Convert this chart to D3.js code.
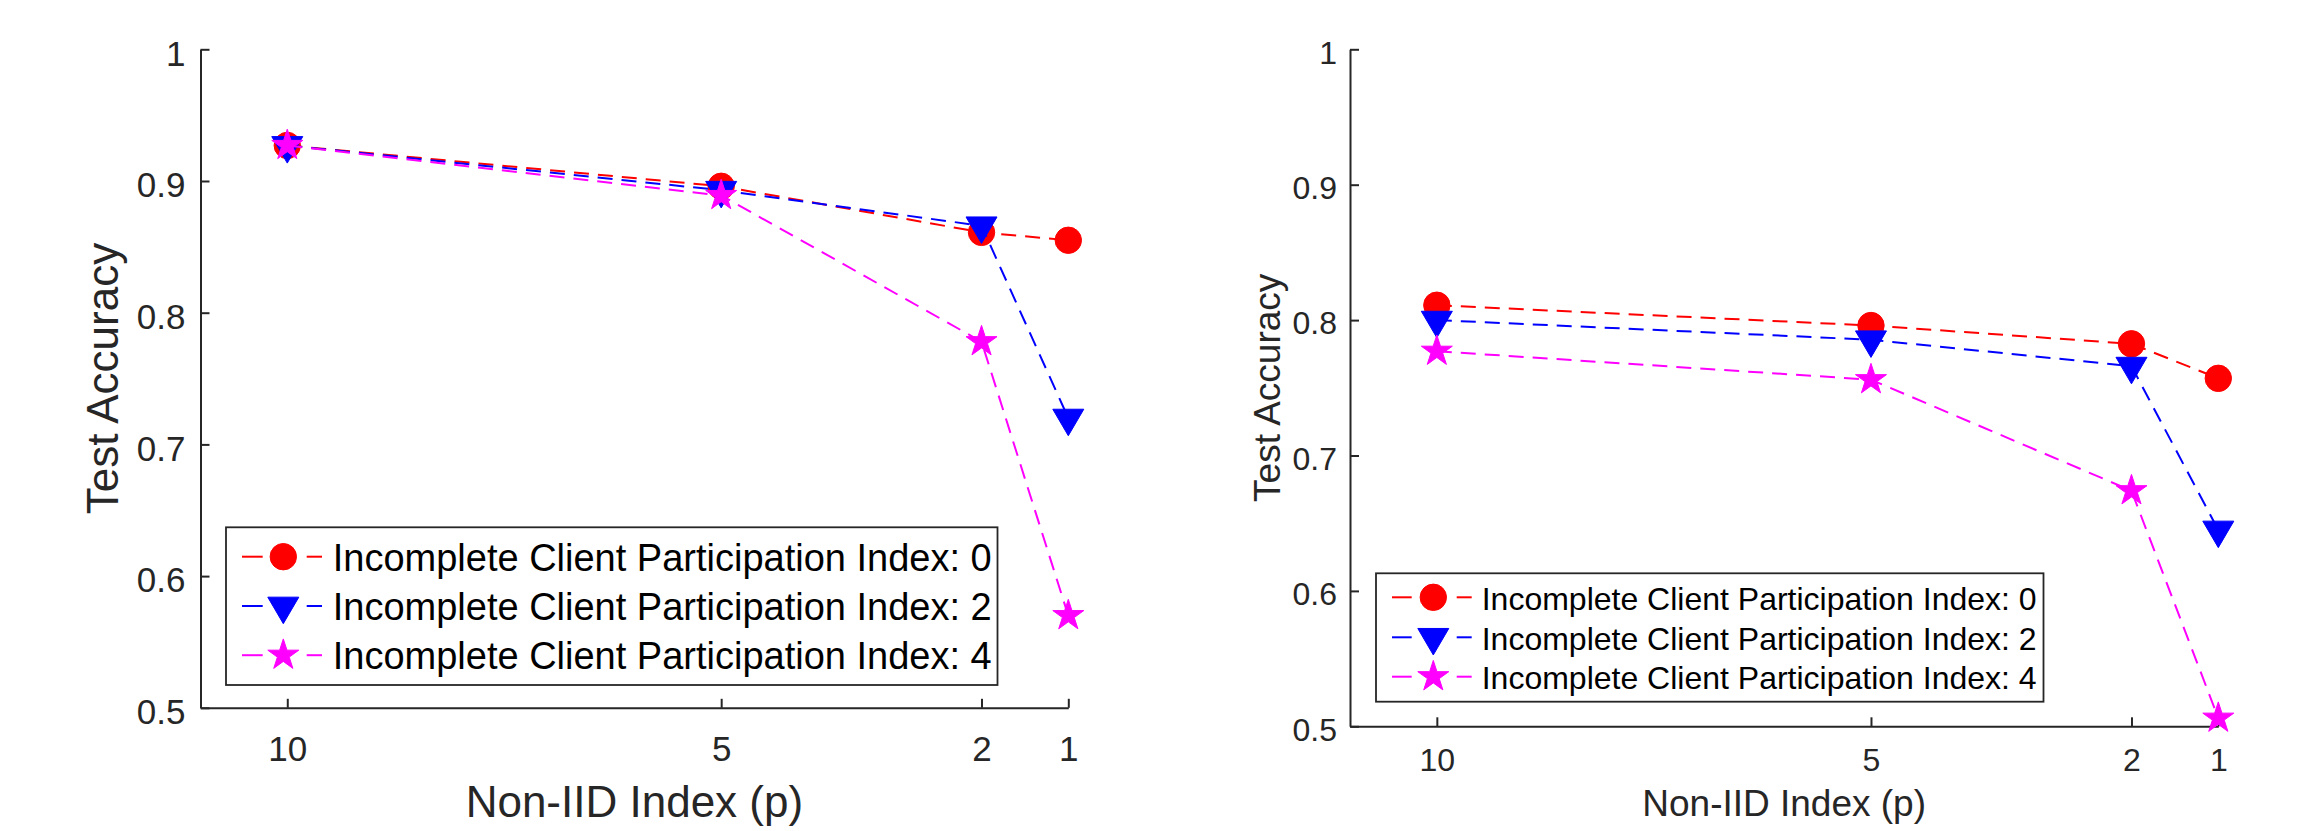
<!DOCTYPE html>
<html>
<head>
<meta charset="utf-8">
<script src="https://cdn.jsdelivr.net/npm/d3@7"></script>
<style>
  html, body { margin: 0; padding: 0; background: #ffffff; }
  svg { display: block; }
  text { font-family: "Liberation Sans", Arial, Helvetica, sans-serif; }
</style>
</head>
<body>
<svg id="chart" width="2305" height="831"></svg>
<script>
// ---------------- DATA ----------------
const pValues = [10, 5, 2, 1];
const xTickLabels = ["10", "5", "2", "1"];
const yTicks = [0.5, 0.6, 0.7, 0.8, 0.9, 1];
const yTickLabels = ["0.5", "0.6", "0.7", "0.8", "0.9", "1"];

const seriesNames = [
  "Incomplete Client Participation Index: 0",
  "Incomplete Client Participation Index: 2",
  "Incomplete Client Participation Index: 4"
];
const seriesColors = ["#ff0000", "#0000ff", "#ff00ff"];
const seriesMarkers = ["circle", "triangle", "star"];

// left panel
const leftICP0 = [0.927, 0.896, 0.861, 0.855];
const leftICP2 = [0.927, 0.893, 0.866, 0.720];
const leftICP4 = [0.927, 0.889, 0.778, 0.570];
// right panel
const rightICP0 = [0.811, 0.796, 0.7825, 0.757];
const rightICP2 = [0.800, 0.7855, 0.766, 0.645];
const rightICP4 = [0.777, 0.756, 0.674, 0.506];

const xLabel = "Non-IID Index (p)";
const yLabel = "Test Accuracy";

// ---------------- DRAWING ----------------
const svg = d3.select("#chart");
const axisColor = "#262626";

function markerPath(type) {
  if (type === "circle") {
    return d3.arc()({innerRadius: 0, outerRadius: 13.2, startAngle: 0, endAngle: 2 * Math.PI});
  }
  if (type === "triangle") {
    const w = 31, h = 26.5;
    return `M${-w/2},${-h/3}L${w/2},${-h/3}L0,${2*h/3}Z`;
  }
  // pentagram
  const R = 16.3, r = R * 0.382;
  let d = "";
  for (let i = 0; i < 10; i++) {
    const rad = (i % 2 === 0) ? R : r;
    const a = -Math.PI / 2 + i * Math.PI / 5;
    d += (i === 0 ? "M" : "L") + (rad * Math.cos(a)).toFixed(2) + "," + (rad * Math.sin(a)).toFixed(2);
  }
  return d + "Z";
}

function drawPanel(cfg) {
  const g = svg.append("g");
  const x = d3.scaleLinear().domain([11, 1]).range([cfg.left, cfg.right]);
  const y = d3.scaleLinear().domain([0.5, 1]).range([cfg.bottom, cfg.top]);

  // y axis
  const yAxis = d3.axisLeft(y).tickValues(yTicks)
    .tickFormat((d, i) => yTickLabels[i])
    .tickSizeInner(-9).tickSizeOuter(0).tickPadding(cfg.yTickPad);
  const ya = g.append("g").attr("transform", `translate(${cfg.left},0)`).call(yAxis);
  ya.select(".domain").attr("stroke", axisColor).attr("stroke-width", 2);
  ya.selectAll(".tick line").attr("stroke", axisColor).attr("stroke-width", 2);
  ya.selectAll(".tick text").attr("fill", axisColor)
    .style("font-size", cfg.tickFont + "px")
    .attr("dy", cfg.yTickDy + "em");

  // x axis
  const xAxis = d3.axisBottom(x).tickValues(pValues)
    .tickFormat((d, i) => xTickLabels[i])
    .tickSizeInner(-9).tickSizeOuter(0).tickPadding(0);
  const xa = g.append("g").attr("transform", `translate(0,${cfg.bottom})`).call(xAxis);
  xa.select(".domain").attr("stroke", axisColor).attr("stroke-width", 2);
  xa.selectAll(".tick line").attr("stroke", axisColor).attr("stroke-width", 2);
  xa.selectAll(".tick text").attr("fill", axisColor)
    .style("font-size", cfg.tickFont + "px")
    .attr("y", cfg.xTickBaseline).attr("dy", 0);

  // axis labels
  g.append("text")
    .attr("x", (cfg.left + cfg.right) / 2).attr("y", cfg.xLabelBaseline)
    .attr("text-anchor", "middle").attr("fill", axisColor)
    .style("font-size", cfg.labelFont + "px").text(xLabel);
  g.append("text")
    .attr("transform", `translate(${cfg.yLabelX},${(cfg.top + cfg.bottom) / 2}) rotate(-90)`)
    .attr("text-anchor", "middle").attr("fill", axisColor)
    .style("font-size", cfg.labelFont + "px").text(yLabel);

  // series
  const line = d3.line().x((d, i) => x(pValues[i])).y(d => y(d));
  cfg.series.forEach((vals, si) => {
    const sg = g.append("g");
    sg.append("path").datum(vals).attr("d", line)
      .attr("fill", "none").attr("stroke", seriesColors[si])
      .attr("stroke-width", 2).attr("stroke-dasharray", "15,9");
    sg.selectAll("path.mk").data(vals).enter().append("path")
      .attr("class", "mk")
      .attr("d", markerPath(seriesMarkers[si]))
      .attr("transform", (d, i) => `translate(${x(pValues[i])},${y(d)})`)
      .attr("fill", seriesColors[si]).attr("stroke", seriesColors[si]).attr("stroke-width", 1);
  });

  // legend
  const L = cfg.legend;
  const lg = g.append("g");
  lg.append("rect").attr("x", L.x0).attr("y", L.y0)
    .attr("width", L.x1 - L.x0).attr("height", L.y1 - L.y0)
    .attr("fill", "#ffffff").attr("stroke", axisColor).attr("stroke-width", 1.8);
  seriesNames.forEach((name, si) => {
    const cy = L.rowY[si];
    lg.append("line").attr("x1", L.seg1[0]).attr("x2", L.seg1[1]).attr("y1", cy).attr("y2", cy)
      .attr("stroke", seriesColors[si]).attr("stroke-width", 2);
    lg.append("line").attr("x1", L.seg2[0]).attr("x2", L.seg2[1]).attr("y1", cy).attr("y2", cy)
      .attr("stroke", seriesColors[si]).attr("stroke-width", 2);
    lg.append("path").attr("d", markerPath(seriesMarkers[si]))
      .attr("transform", `translate(${L.markerX},${cy})`)
      .attr("fill", seriesColors[si]).attr("stroke", seriesColors[si]).attr("stroke-width", 1);
    lg.append("text").attr("x", L.textX).attr("y", cy + L.textDy)
      .attr("fill", "#000000").style("font-size", L.font + "px").text(name);
  });
}

drawPanel({
  left: 200.5, right: 1068.3, top: 49.3, bottom: 707.8,
  tickFont: 35, yTickPad: 15, yTickDy: 0.45, xTickBaseline: 53,
  labelFont: 44, xLabelBaseline: 816.5, yLabelX: 118,
  series: [leftICP0, leftICP2, leftICP4],
  legend: {
    x0: 226, x1: 997.5, y0: 527.3, y1: 685,
    rowY: [556.7, 606, 655.2], seg1: [242, 262.7], seg2: [306.7, 322],
    markerX: 283.3, textX: 332.7, textDy: 14, font: 38
  }
});

drawPanel({
  left: 1350, right: 2218.3, top: 49.3, bottom: 726.3,
  tickFont: 32, yTickPad: 13, yTickDy: 0.43, xTickBaseline: 44.4,
  labelFont: 37, xLabelBaseline: 815.5, yLabelX: 1280,
  series: [rightICP0, rightICP2, rightICP4],
  legend: {
    x0: 1376, x1: 2043.5, y0: 573.3, y1: 701.7,
    rowY: [597.3, 637.3, 676.7], seg1: [1392, 1411.7], seg2: [1456.7, 1471.7],
    markerX: 1433.3, textX: 1481.7, textDy: 12.5, font: 32
  }
});
</script>
</body>
</html>
